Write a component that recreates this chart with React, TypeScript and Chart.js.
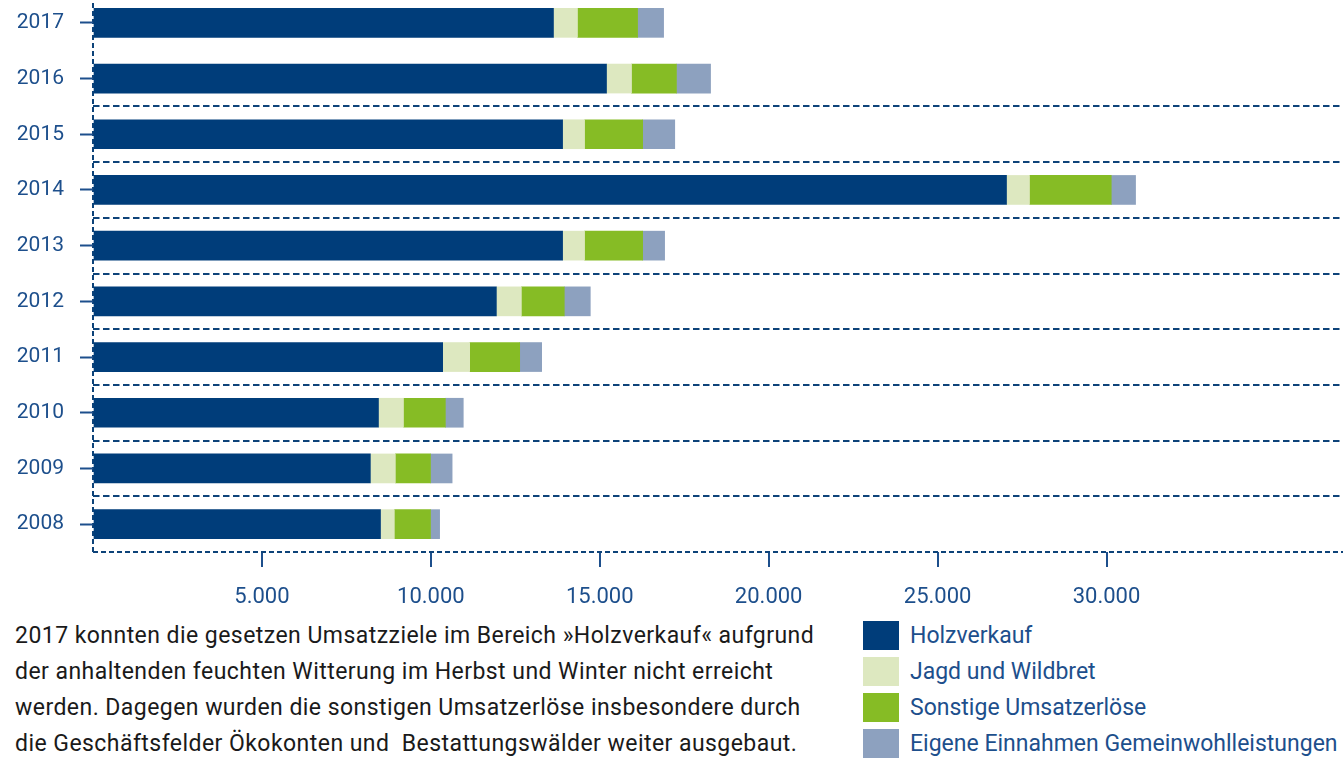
import React, { useEffect, useRef } from 'react';
import { Chart, registerables } from 'chart.js';

Chart.register(...registerables);

const YEARS = ['2017', '2016', '2015', '2014', '2013', '2012', '2011', '2010', '2009', '2008'];
const HOLZVERKAUF = [13630, 15200, 13900, 27040, 13900, 11940, 10350, 8450, 8210, 8510];
const JAGD = [710, 740, 650, 680, 650, 740, 800, 740, 740, 410];
const SONSTIGE = [1780, 1330, 1720, 2420, 1720, 1270, 1480, 1240, 1040, 1070];
const EIGENE = [770, 1010, 950, 720, 650, 770, 650, 530, 640, 270];
const X_TICKS = [0, 5000, 10000, 15000, 20000, 25000, 30000];
const X_MAX = 37000;

const SERIES_NAMES = ['Holzverkauf', 'Jagd und Wildbret', 'Sonstige Umsatzerlöse', 'Eigene Einnahmen Gemeinwohlleistungen'];
const SERIES_COLORS = ['#003d7a', '#dde8c0', '#86bc25', '#8da1bf'];
const SERIES_VALUES = [HOLZVERKAUF, JAGD, SONSTIGE, EIGENE];

const TEXT_LINES = [
  '2017 konnten die gesetzen Umsatzziele im Bereich »Holzverkauf« aufgrund',
  'der anhaltenden feuchten Witterung im Herbst und Winter nicht erreicht',
  'werden. Dagegen wurden die sonstigen Umsatzerlöse insbesondere durch',
  'die Geschäftsfelder Ökokonten und  Bestattungswälder weiter ausgebaut.',
];

const AXIS_BLUE = '#1d4f8c';
const LINE_BLUE = '#0d4379';
const FONT = 'Roboto, "Noto Sans", sans-serif';

function formatDE(v: number): string {
  return v.toLocaleString('de-DE');
}

export default function App() {
  const canvasRef = useRef<HTMLCanvasElement | null>(null);

  useEffect(() => {
    if (!canvasRef.current) return;
    const chart = new Chart(canvasRef.current, {
      type: 'bar',
      data: {
        labels: YEARS,
        datasets: SERIES_NAMES.map((name, i) => ({
          label: name,
          data: SERIES_VALUES[i],
          backgroundColor: SERIES_COLORS[i],
          borderWidth: 0,
          barThickness: 29,
        })),
      },
      options: {
        indexAxis: 'y',
        animation: false,
        responsive: true,
        maintainAspectRatio: false,
        layout: { padding: 0 },
        plugins: {
          legend: { display: false },
          tooltip: { enabled: false },
        },
        scales: {
          x: {
            type: 'linear',
            stacked: true,
            min: 0,
            max: X_MAX,
            afterBuildTicks: (scale: any) => {
              scale.ticks = X_TICKS.map((v) => ({ value: v }));
            },
            afterFit: (scale: any) => {
              scale.height = 60;
              scale.paddingLeft = 0;
              scale.paddingRight = 0;
            },
            grid: {
              color: (ctx: any) => (ctx.index === 0 ? LINE_BLUE : 'rgba(0,0,0,0)'),
              lineWidth: 2,
              drawTicks: true,
              tickLength: 15,
              tickWidth: 2,
              tickColor: (ctx: any) => (ctx.index === 0 ? 'rgba(0,0,0,0)' : AXIS_BLUE),
              tickBorderDash: [],
            },
            border: { display: false, dash: [5, 3] },
            ticks: {
              color: AXIS_BLUE,
              font: { family: FONT, size: 22 },
              padding: 17,
              maxRotation: 0,
              autoSkip: false,
              callback: (v: any) => (Number(v) === 0 ? '' : formatDE(Number(v))),
            },
          },
          y: {
            type: 'category',
            stacked: true,
            offset: true,
            weight: 1,
            afterFit: (scale: any) => {
              scale.width = 93;
              scale.paddingTop = 0;
              scale.paddingBottom = 0;
            },
            grid: {
              offset: false,
              drawOnChartArea: false,
              drawTicks: true,
              tickLength: 13,
              tickWidth: 2,
              tickColor: AXIS_BLUE,
            },
            border: { display: false },
            ticks: {
              color: AXIS_BLUE,
              font: { family: FONT, size: 21 },
              padding: 16,
            },
          },
          y2: {
            type: 'category',
            labels: YEARS,
            position: 'left',
            offset: true,
            weight: 0,
            afterFit: (scale: any) => {
              scale.width = 0;
              scale.paddingTop = 0;
              scale.paddingBottom = 0;
            },
            grid: {
              offset: true,
              drawOnChartArea: true,
              drawTicks: false,
              lineWidth: 2,
              color: (ctx: any) => (ctx.index === 0 || ctx.index === 1 ? 'rgba(0,0,0,0)' : LINE_BLUE),
            },
            border: {
              display: false,
              dash: (ctx: any) => (ctx.index === undefined ? [5, 3] : [6.5, 3.5]),
            },
            ticks: { display: false },
          },
        },
      } as any,
    });
    return () => chart.destroy();
  }, []);

  return (
    <div style={{ position: 'absolute', left: 0, top: 0, width: 1343, height: 759, overflow: 'hidden', background: '#fff' }}>
      <div style={{ position: 'absolute', left: 0, top: -5, width: 1343, height: 617 }}>
        <canvas ref={canvasRef} />
      </div>
      <div
        style={{
          position: 'absolute',
          left: 15,
          top: 618,
          fontFamily: FONT,
          fontSize: 23,
          letterSpacing: '0.45px',
          lineHeight: '36px',
          color: '#1a1a1a',
          whiteSpace: 'pre',
        }}
      >
        {TEXT_LINES.map((l, i) => (
          <div key={i}>{l}</div>
        ))}
      </div>
      <div style={{ position: 'absolute', left: 863, top: 621 }}>
        {SERIES_NAMES.map((name, i) => (
          <div key={name} style={{ position: 'relative', height: 36 }}>
            <div style={{ position: 'absolute', left: 0, top: 0, width: 36, height: 29, background: SERIES_COLORS[i] }} />
            <div
              style={{
                position: 'absolute',
                left: 47,
                top: -3,
                fontFamily: FONT,
                fontSize: 23,
                lineHeight: '36px',
                color: AXIS_BLUE,
                whiteSpace: 'pre',
              }}
            >
              {name}
            </div>
          </div>
        ))}
      </div>
    </div>
  );
}
